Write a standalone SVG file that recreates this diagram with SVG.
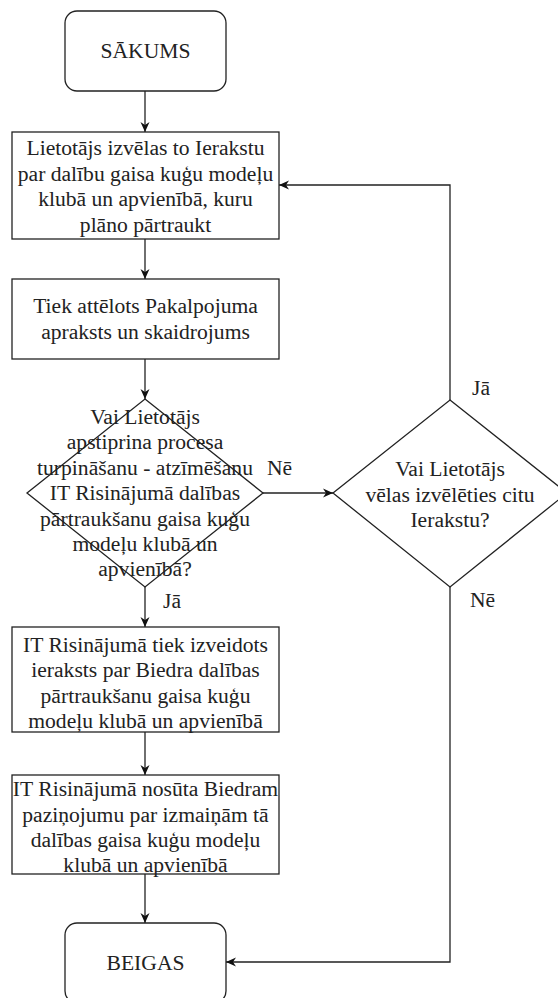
<svg xmlns="http://www.w3.org/2000/svg" width="558" height="998" viewBox="0 0 558 998">
<style>
.shape{fill:#fff;stroke:#222;stroke-width:1.3}
.edge{fill:none;stroke:#222;stroke-width:1.3}
text{font-family:"Liberation Serif","Times New Roman",serif;font-size:21.6px;fill:#222;text-anchor:middle}
.lbl{text-anchor:start}
</style>
<defs>
<marker id="arr" viewBox="0 0 10 10" refX="10" refY="5" markerWidth="10" markerHeight="10" markerUnits="userSpaceOnUse" orient="auto">
<path d="M0,0.5 L10,5 L0,9.5 L3,5 z" fill="#111"/>
</marker>
</defs>
<rect width="558" height="998" fill="#fff"/>
<g id="connectors">
<path class="edge" d="M145,91 V132" marker-end="url(#arr)"/>
<path class="edge" d="M145,239 V279" marker-end="url(#arr)"/>
<path class="edge" d="M145,359 V399" marker-end="url(#arr)"/>
<path class="edge" d="M145,587 V627" marker-end="url(#arr)"/>
<path class="edge" d="M145,732 V775" marker-end="url(#arr)"/>
<path class="edge" d="M145,874 V923" marker-end="url(#arr)"/>
<path class="edge" d="M263,493 H333" marker-end="url(#arr)"/>
<path class="edge" d="M450,400 V185 H279" marker-end="url(#arr)"/>
<path class="edge" d="M450,587 V962 H226" marker-end="url(#arr)"/>
<text class="lbl" x="267" y="475">Nē</text>
<text class="lbl" x="163" y="608">Jā</text>
<text class="lbl" x="472" y="395">Jā</text>
<text class="lbl" x="470" y="607">Nē</text>
</g>
<g id="start">
<rect class="shape" x="65" y="11" width="161" height="80" rx="12"/>
<text x="145.5" y="58">SĀKUMS</text>
</g>
<g id="select">
<rect class="shape" x="12" y="132" width="267" height="107"/>
<text x="145.5" y="155">Lietotājs izvēlas to Ierakstu</text>
<text x="145.5" y="181">par dalību gaisa kuģu modeļu</text>
<text x="145.5" y="206">klubā un apvienībā, kuru</text>
<text x="145.5" y="232">plāno pārtraukt</text>
</g>
<g id="show">
<rect class="shape" x="12" y="279" width="267" height="80"/>
<text x="145.5" y="313">Tiek attēlots Pakalpojuma</text>
<text x="145.5" y="338.5">apraksts un skaidrojums</text>
</g>
<g id="confirm">
<path class="shape" d="M145,399 L263,493 L145,587 L27,493 Z"/>
<text x="145" y="423.5">Vai Lietotājs</text>
<text x="145" y="449">apstiprina procesa</text>
<text x="145" y="474.5">turpināšanu - atzīmēšanu</text>
<text x="145" y="500">IT Risinājumā dalības</text>
<text x="145" y="525.5">pārtraukšanu gaisa kuģu</text>
<text x="145" y="551">modeļu klubā un</text>
<text x="145" y="576">apvienībā?</text>
</g>
<g id="other">
<path class="shape" d="M450,400 L567,493 L450,587 L333,493 Z"/>
<text x="450" y="476">Vai Lietotājs</text>
<text x="450" y="501.5">vēlas izvēlēties citu</text>
<text x="450" y="527">Ierakstu?</text>
</g>
<g id="record">
<rect class="shape" x="12" y="627" width="267" height="105"/>
<text x="145.5" y="652">IT Risinājumā tiek izveidots</text>
<text x="145.5" y="677">ieraksts par Biedra dalības</text>
<text x="145.5" y="702.5">pārtraukšanu gaisa kuģu</text>
<text x="145.5" y="728">modeļu klubā un apvienībā</text>
</g>
<g id="notify">
<rect class="shape" x="12" y="775" width="267" height="99"/>
<text x="145.5" y="796">IT Risinājumā nosūta Biedram</text>
<text x="145.5" y="821.5">paziņojumu par izmaiņām tā</text>
<text x="145.5" y="847">dalības gaisa kuģu modeļu</text>
<text x="145.5" y="872">klubā un apvienībā</text>
</g>
<g id="end">
<rect class="shape" x="65" y="923" width="161" height="80" rx="12"/>
<text x="145.5" y="970">BEIGAS</text>
</g>
</svg>
